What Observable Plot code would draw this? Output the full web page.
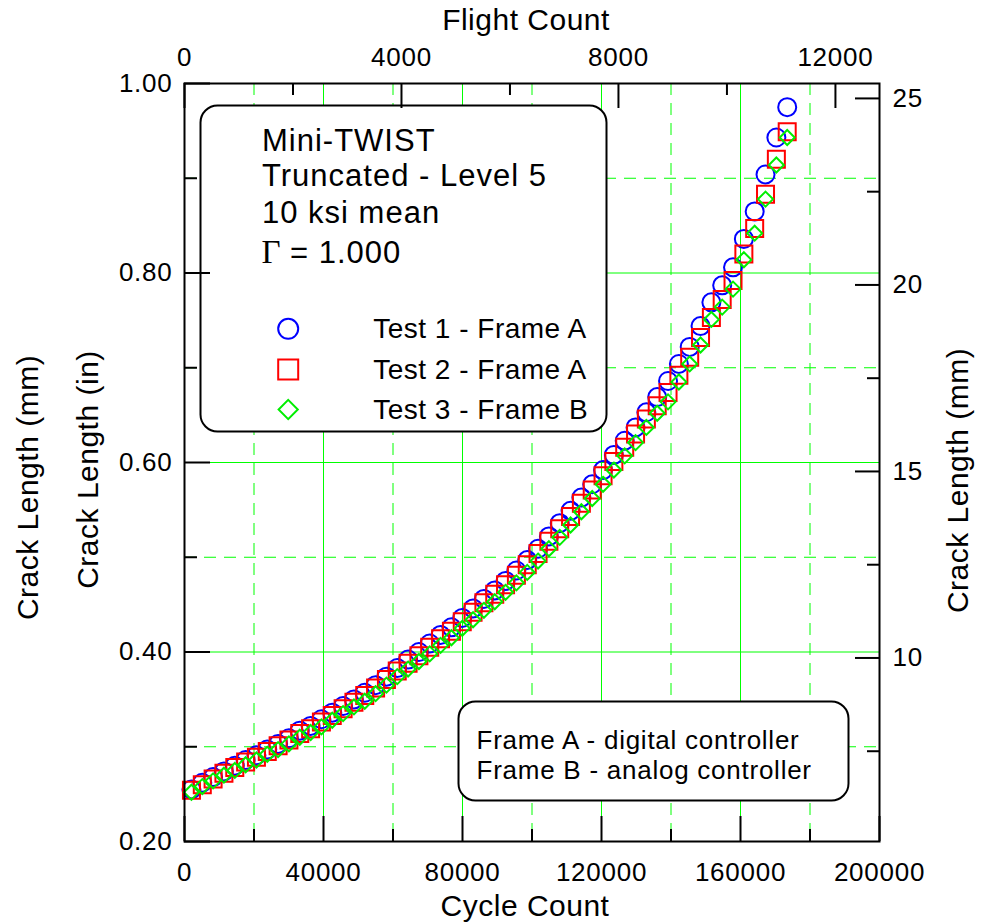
<!DOCTYPE html>
<html>
<head>
<meta charset="utf-8">
<script src="https://cdn.jsdelivr.net/npm/d3@7"></script>
<script src="https://cdn.jsdelivr.net/npm/@observablehq/plot@0.6"></script>
<style>
html, body { margin: 0; padding: 0; background: #fff; }
#chart svg { display: block; }
g[font-size="26"] { letter-spacing: 0.75px; }
g[font-size="30"] { letter-spacing: 0.5px; }
g[font-size="31"] { letter-spacing: 1px; }
g[font-size="28"] { letter-spacing: 0.5px; }
</style>
</head>
<body>
<div id="chart"></div>
<script>
// ---------------- data ----------------
const cycles = [
  2000, 5120, 8230, 11350, 14470, 17590, 20700, 23820, 26940, 30050,
  33170, 36290, 39400, 42520, 45640, 48760, 51870, 54990, 58110, 61220,
  64340, 67460, 70570, 73690, 76810, 79930, 83040, 86160, 89280, 92390,
  95510, 98630, 101740, 104860, 107980, 111100, 114210, 117330, 120450, 123560,
  126680, 129800, 132910, 136030, 139150, 142270, 145380, 148500, 151620, 154730,
  157850, 160970, 164080, 167200, 170320, 173440
];
const test1 = [ // Test 1 - Frame A (circles)
  0.255, 0.262, 0.268, 0.274, 0.280, 0.286, 0.291, 0.297, 0.303, 0.309,
  0.317, 0.322, 0.329, 0.336, 0.343, 0.350, 0.357, 0.365, 0.374, 0.383,
  0.392, 0.400, 0.409, 0.418, 0.426, 0.436, 0.446, 0.456, 0.465, 0.475,
  0.486, 0.497, 0.509, 0.522, 0.536, 0.549, 0.563, 0.577, 0.592, 0.608,
  0.623, 0.637, 0.653, 0.669, 0.686, 0.704, 0.722, 0.744, 0.769, 0.787,
  0.806, 0.836, 0.865, 0.904, 0.943, 0.975
];
const test2 = [ // Test 2 - Frame A (squares)
  0.254, 0.260, 0.266, 0.272, 0.278, 0.284, 0.289, 0.295, 0.301, 0.307,
  0.314, 0.319, 0.326, 0.333, 0.340, 0.347, 0.354, 0.362, 0.371, 0.380,
  0.388, 0.396, 0.405, 0.414, 0.422, 0.432, 0.442, 0.452, 0.461, 0.471,
  0.481, 0.492, 0.504, 0.517, 0.530, 0.543, 0.557, 0.571, 0.586, 0.601,
  0.616, 0.630, 0.646, 0.660, 0.674, 0.692, 0.711, 0.732, 0.753, 0.772,
  0.792, 0.820, 0.847, 0.883, 0.920, 0.949
];
const test3 = [ // Test 3 - Frame B (diamonds)
  0.252, 0.258, 0.264, 0.270, 0.275, 0.281, 0.286, 0.292, 0.297, 0.303,
  0.310, 0.315, 0.321, 0.328, 0.335, 0.342, 0.348, 0.356, 0.365, 0.374,
  0.382, 0.390, 0.398, 0.407, 0.415, 0.425, 0.434, 0.444, 0.453, 0.463,
  0.473, 0.484, 0.496, 0.509, 0.521, 0.534, 0.548, 0.562, 0.577, 0.592,
  0.607, 0.621, 0.637, 0.652, 0.664, 0.685, 0.704, 0.724, 0.751, 0.764,
  0.783, 0.814, 0.842, 0.878, 0.914, 0.943
];

const seriesNames = ["Test 1 - Frame A", "Test 2 - Frame A", "Test 3 - Frame B"];
const infoLines = ["Mini-TWIST", "Truncated - Level 5", "10 ksi mean"];
const gammaSymbol = "\u0393";
const gammaValue = "= 1.000";
const noteLines = ["Frame A - digital controller", "Frame B - analog controller"];

const cycleMajor = [0, 40000, 80000, 120000, 160000, 200000];
const cycleMinor = [20000, 60000, 100000, 140000, 180000];
const flightMajor = [0, 4000, 8000, 12000];
const flightMinor = [2000, 6000, 10000];
const CYCLES_PER_FLIGHT = 15.61;
const inchMajor = [0.2, 0.4, 0.6, 0.8, 1.0];
const inchMinor = [0.3, 0.5, 0.7, 0.9];
const mmMajor = [10, 15, 20, 25];
const mmMinor = [7.5, 12.5, 17.5, 22.5];
const MM_PER_INCH = 25.4;

const xTitle = "Cycle Count";
const x2Title = "Flight Count";
const yTitle = "Crack Length (in)";
const yOuterTitle = "Crack Length (mm)";
const y2Title = "Crack Length (mm)";

// ---------------- build ----------------
const toRows = (vals) => cycles.map((c, i) => ({cycles: c, crack: vals[i]}));
const rows1 = toRows(test1), rows2 = toRows(test2), rows3 = toRows(test3);

const squareSym = {draw(ctx, size) { const r = Math.sqrt(size / Math.PI);
  ctx.moveTo(-r, -r); ctx.lineTo(r, -r); ctx.lineTo(r, r); ctx.lineTo(-r, r); ctx.closePath(); }};
const diamondSym = {draw(ctx, size) { const r = Math.sqrt(size / Math.PI);
  ctx.moveTo(0, -r); ctx.lineTo(r, 0); ctx.lineTo(0, r); ctx.lineTo(-r, 0); ctx.closePath(); }};

const W = 990, H = 924, ML = 184, MR = 111, MT = 83, MB = 83;
const PW = W - ML - MR, PH = H - MT - MB;
const GREEN = "#00ff00";
const SANS = "Liberation Sans, Arial, Helvetica, sans-serif";
const SERIF = "Liberation Serif, Times New Roman, serif";
const DASH = "12,8";

const legendText = (txt, dx, dy, size, family) => Plot.text([txt], {
  frameAnchor: "top-left", text: d => d, dx, dy, lineAnchor: "bottom", textAnchor: "start",
  fontSize: size, fontFamily: family || SANS, fill: "black"});

const chart = Plot.plot({
  width: W, height: H,
  marginLeft: ML, marginRight: MR, marginTop: MT, marginBottom: MB,
  x: {domain: [0, 200000], axis: null},
  y: {domain: [0.2, 1.0], axis: null},
  style: {fontFamily: SANS, background: "white", color: "black", overflow: "visible"},
  marks: [
    // grid
    Plot.ruleX(cycleMajor.slice(1, -1), {x: d => d, stroke: GREEN, strokeWidth: 1}),
    Plot.ruleX(cycleMinor, {x: d => d, stroke: GREEN, strokeWidth: 1, strokeDasharray: DASH}),
    Plot.ruleY(inchMajor.slice(1, -1), {y: d => d, stroke: GREEN, strokeWidth: 1}),
    Plot.ruleY(inchMinor, {y: d => d, stroke: GREEN, strokeWidth: 1, strokeDasharray: DASH}),

    // data
    Plot.dot(rows1, {x: "cycles", y: "crack", r: 9, stroke: "#0000ff", strokeWidth: 2, fill: "none"}),
    Plot.dot(rows2, {x: "cycles", y: "crack", r: 8.5, symbol: squareSym, stroke: "#ff0000", strokeWidth: 2, fill: "none"}),
    Plot.dot(rows3, {x: "cycles", y: "crack", r: 7.5, symbol: diamondSym, stroke: "#00ee00", strokeWidth: 2, fill: "none"}),

    // legend box
    Plot.frame({insetLeft: 16, insetRight: 273, insetTop: 22, insetBottom: 410, rx: 17, ry: 17,
      fill: "white", stroke: "black", strokeWidth: 2}),
    legendText(infoLines[0], 77.5, 67, 31),
    legendText(infoLines[1], 77.5, 102.7, 31),
    legendText(infoLines[2], 77.5, 139.7, 31),
    legendText(gammaSymbol, 77, 179.3, 33, SERIF),
    legendText(gammaValue, 105.5, 179.3, 31),
    Plot.dot([seriesNames[0]], {frameAnchor: "top-left", dx: 103.7, dy: 245.3, r: 10,
      stroke: "#0000ff", strokeWidth: 2, fill: "none"}),
    Plot.dot([seriesNames[1]], {frameAnchor: "top-left", dx: 103.7, dy: 286, r: 10, symbol: squareSym,
      stroke: "#ff0000", strokeWidth: 2, fill: "none"}),
    Plot.dot([seriesNames[2]], {frameAnchor: "top-left", dx: 103.7, dy: 326, r: 9.6, symbol: diamondSym,
      stroke: "#00ee00", strokeWidth: 2, fill: "none"}),
    legendText(seriesNames[0], 188.7, 254.7, 28),
    legendText(seriesNames[1], 188.7, 295.3, 28),
    legendText(seriesNames[2], 188.7, 335.7, 28),

    // note box
    Plot.frame({insetLeft: 274, insetRight: 31, insetTop: 618, insetBottom: 41, rx: 17, ry: 17,
      fill: "white", stroke: "black", strokeWidth: 2}),
    legendText(noteLines[0], 292, 665.3, 26),
    legendText(noteLines[1], 292, 695.3, 26),

    // frame
    Plot.frame({stroke: "black", strokeWidth: 2}),

    // ticks (inside)
    Plot.tickX(cycleMajor, {x: d => d, insetTop: PH - 25, stroke: "black", strokeWidth: 2}),
    Plot.tickX(cycleMinor, {x: d => d, insetTop: PH - 12, stroke: "black", strokeWidth: 2}),
    Plot.tickX(flightMajor, {x: d => d * CYCLES_PER_FLIGHT, insetBottom: PH - 25, stroke: "black", strokeWidth: 2}),
    Plot.tickX(flightMinor, {x: d => d * CYCLES_PER_FLIGHT, insetBottom: PH - 12, stroke: "black", strokeWidth: 2}),
    Plot.tickY(inchMajor, {y: d => d, insetRight: PW - 26, stroke: "black", strokeWidth: 2}),
    Plot.tickY(inchMinor, {y: d => d, insetRight: PW - 13, stroke: "black", strokeWidth: 2}),
    Plot.tickY(mmMajor, {y: d => d / MM_PER_INCH, insetLeft: PW - 24, stroke: "black", strokeWidth: 2}),
    Plot.tickY(mmMinor, {y: d => d / MM_PER_INCH, insetLeft: PW - 12, stroke: "black", strokeWidth: 2}),

    // tick labels
    Plot.text(cycleMajor, {x: d => d, text: d => String(d), frameAnchor: "bottom", dy: 39,
      lineAnchor: "bottom", textAnchor: "middle", fontSize: 26, fill: "black"}),
    Plot.text(flightMajor, {x: d => d * CYCLES_PER_FLIGHT, text: d => String(d), frameAnchor: "top", dy: -18,
      lineAnchor: "bottom", textAnchor: "middle", fontSize: 26, fill: "black"}),
    Plot.text(inchMajor, {y: d => d, text: d => d3.format(".2f")(d), frameAnchor: "left", dx: -12,
      textAnchor: "end", lineAnchor: "middle", fontSize: 26, fill: "black"}),
    Plot.text(mmMajor, {y: d => d / MM_PER_INCH, text: d => String(d), frameAnchor: "right", dx: 13,
      textAnchor: "start", lineAnchor: "middle", fontSize: 26, fill: "black"}),

    // axis titles
    Plot.text([xTitle], {text: d => d, frameAnchor: "bottom", dx: -7, dy: 74, lineAnchor: "bottom",
      textAnchor: "middle", fontSize: 30, fill: "black"}),
    Plot.text([x2Title], {text: d => d, frameAnchor: "top", dx: -6, dy: -53.5, lineAnchor: "bottom",
      textAnchor: "middle", fontSize: 30, fill: "black"}),
    Plot.text([yOuterTitle], {text: d => d, frameAnchor: "left", dx: -156, dy: 25, rotate: -90,
      textAnchor: "middle", lineAnchor: "middle", fontSize: 30, fill: "black"}),
    Plot.text([yTitle], {text: d => d, frameAnchor: "left", dx: -96, dy: 7, rotate: -90,
      textAnchor: "middle", lineAnchor: "middle", fontSize: 30, fill: "black"}),
    Plot.text([y2Title], {text: d => d, frameAnchor: "right", dx: 79, dy: 18, rotate: -90,
      textAnchor: "middle", lineAnchor: "middle", fontSize: 30, fill: "black"})
  ]
});
document.getElementById("chart").append(chart);
</script>
</body>
</html>
